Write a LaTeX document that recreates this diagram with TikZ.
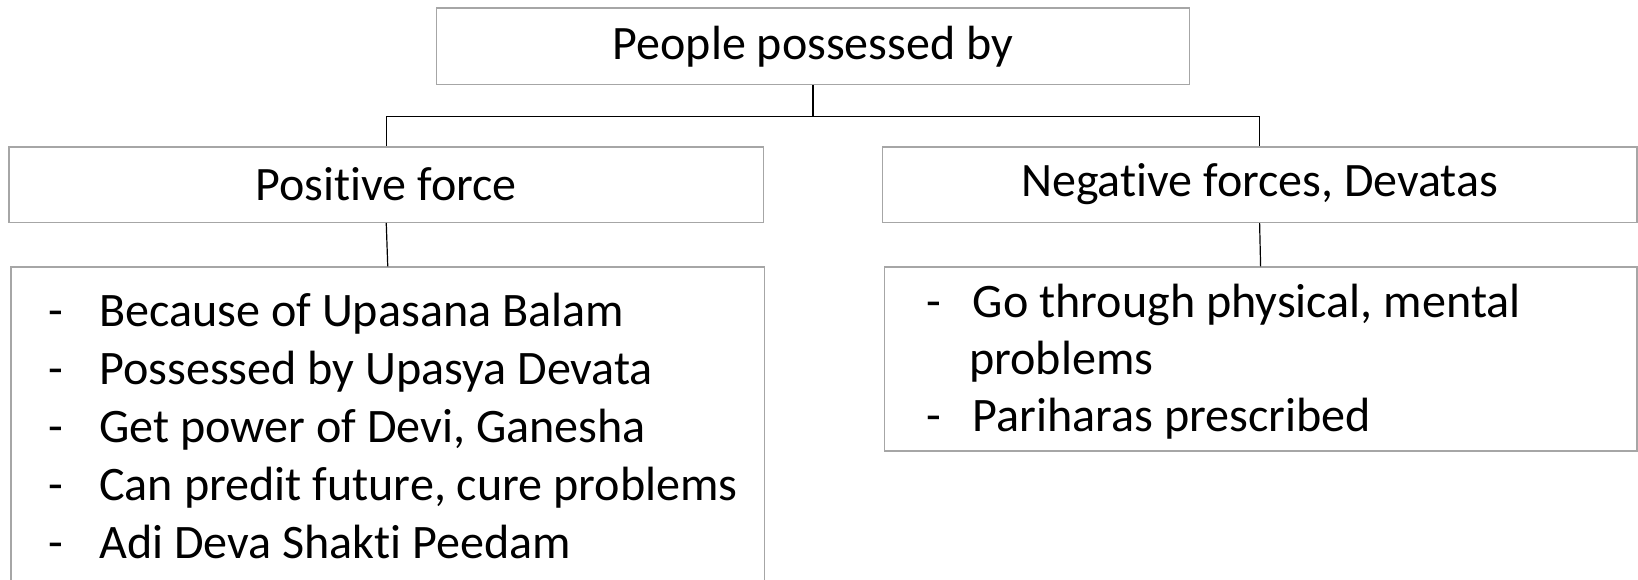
\documentclass[tikz,border=0pt]{standalone}
\usepackage{fontspec}
\setmainfont{Carlito}[Ligatures=NoCommon]
\usetikzlibrary{calc}
\definecolor{boxgray}{HTML}{A6A6A6}
\begin{document}
\begin{tikzpicture}[x=1pt,y=-1pt,
  box/.style={draw=boxgray, line width=1.5pt, fill=white, inner sep=0pt,
    anchor=north west, font=\fontsize{48}{58}\selectfont},
  link/.style={draw=black, line width=1.2pt},
  item/.style={inner sep=0pt, anchor=base west, font=\fontsize{48.1}{58}\selectfont}]
\useasboundingbox (0,0) rectangle (1638,579);
\clip (0,0) rectangle (1638,579);

% heading and the two branches
\node[box, minimum width=753.2pt, minimum height=76.3pt] (top) at (435.6,7.3) {People possessed by};
\node[box, minimum width=754.2pt, minimum height=75.5pt] (pos) at (8.4,146) {Positive force};
\node[box, minimum width=754.3pt, minimum height=75.5pt] (neg) at (881.7,146) {Negative forces, Devatas};

% detail boxes
\node[box, minimum width=753.2pt, minimum height=340pt] (poslist) at (10.4,266.4) {};
\node[box, minimum width=752.3pt, minimum height=183.8pt] (neglist) at (883.7,266.4) {};

% tree connectors
\coordinate (fork) at ($(top.south)+(0,31.4)$);
\draw[link] (top.south) -- (fork);
\draw[link] (fork) -| (pos.north);
\draw[link] (fork) -| (neg.north);
\draw[link] (pos.south) -- (poslist.north);
\draw[link] (neg.south) -- (neglist.north);

% positive-force items
\foreach \y/\t [count=\i] in {326/Because of Upasana Balam,
    384/Possessed by Upasya Devata,
    442/{Get power of Devi, Ganesha},
    500/{Can predit future, cure problems},
    558/Adi Deva Shakti Peedam}{
  \node[item] (pd\i) at (48,\y) {-};
  \node[item] (pt\i) at (99,\y) {\t};
}

% negative-force items
\node[item] (nd1) at (926,317.6) {-};
\node[item] (nt1) at (972.6,317.6) {Go through physical, mental};
\node[item] (nt1b) at (969,374.6) {problems};
\node[item] (nd2) at (926,431.6) {-};
\node[item] (nt2) at (972.6,431.6) {Pariharas prescribed};
\end{tikzpicture}
\end{document}
